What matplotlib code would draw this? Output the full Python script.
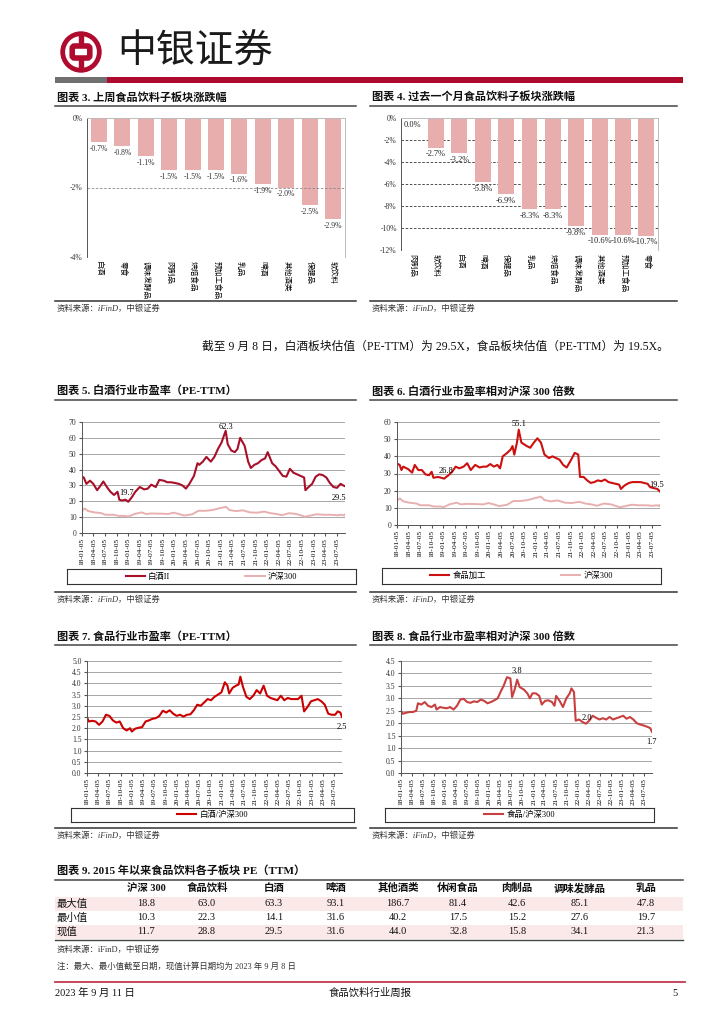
import matplotlib
matplotlib.use('Agg')
import matplotlib.pyplot as plt
import matplotlib.dates as mdates
from matplotlib.patches import Rectangle, Circle, FancyBboxPatch
from matplotlib.lines import Line2D
import pandas as pd
import numpy as np

# ---------------- DATA ----------------
week_cats = ['白酒', '零食', '调味发酵品', '肉制品', '烘焙食品', '预加工食品', '乳品', '啤酒', '其他酒类', '保健品', '软饮料']
week_vals = [-0.7, -0.8, -1.1, -1.5, -1.5, -1.5, -1.6, -1.9, -2.0, -2.5, -2.9]

month_cats = ['肉制品', '软饮料', '白酒', '啤酒', '保健品', '乳品', '烘焙食品', '调味发酵品', '其他酒类', '预加工食品', '零食']
month_vals = [0.0, -2.7, -3.2, -5.8, -6.9, -8.3, -8.3, -9.8, -10.6, -10.6, -10.7]

bj_dates = ['2018-01-05', '2018-01-19', '2018-02-09', '2018-03-09', '2018-04-04', '2018-05-04', '2018-06-01',
            '2018-06-22', '2018-07-20', '2018-08-17', '2018-09-14', '2018-10-12', '2018-10-26', '2018-11-16',
            '2018-12-14', '2019-01-04', '2019-02-01', '2019-03-01', '2019-04-05', '2019-05-10', '2019-06-07',
            '2019-07-05', '2019-08-09', '2019-09-06', '2019-10-11', '2019-11-08', '2019-12-06', '2020-01-10',
            '2020-02-07', '2020-03-06', '2020-04-03', '2020-04-30', '2020-06-05', '2020-07-03', '2020-07-17',
            '2020-08-14', '2020-09-11', '2020-10-16', '2020-11-13', '2020-12-11', '2021-01-08', '2021-02-10',
            '2021-02-26', '2021-03-26', '2021-04-23', '2021-05-14', '2021-06-04', '2021-07-09', '2021-08-06',
            '2021-08-27', '2021-09-24', '2021-10-22', '2021-11-19', '2021-12-17', '2022-01-07', '2022-02-11',
            '2022-03-11', '2022-04-08', '2022-05-06', '2022-06-03', '2022-07-01', '2022-07-29', '2022-08-26',
            '2022-09-23', '2022-10-21', '2022-10-31', '2022-11-25', '2022-12-23', '2023-01-20', '2023-02-17',
            '2023-03-17', '2023-04-14', '2023-05-12', '2023-06-09', '2023-07-07', '2023-08-04', '2023-08-25',
            '2023-09-08']
bj_vals = [35.5, 35, 31, 33, 31, 27, 30, 32.5, 29, 26, 24, 26, 21, 20.5, 21, 19.7, 22.5, 26, 29, 27.5, 28,
           30.5, 29, 33.5, 33, 32, 32, 31.5, 31, 30, 28, 31, 36, 44, 43, 45, 48, 45, 48, 53, 57, 64.5, 56, 52,
           51, 53, 60, 55, 45, 41, 43, 44, 46, 47, 51, 44, 42, 39, 36, 35.5, 40.5, 38, 37, 36, 35, 27, 29, 31,
           35.5, 37, 36.5, 35, 31.5, 29, 28.5, 31, 30, 29.5]

hs_dates = ['2018-01-05', '2018-01-26', '2018-02-23', '2018-04-13', '2018-06-08', '2018-07-06', '2018-09-14',
            '2018-10-19', '2018-12-14', '2019-01-04', '2019-02-22', '2019-04-19', '2019-05-24', '2019-07-05',
            '2019-09-13', '2019-11-15', '2019-12-27', '2020-02-07', '2020-03-20', '2020-05-22', '2020-07-10',
            '2020-09-04', '2020-10-30', '2020-12-18', '2021-02-12', '2021-03-12', '2021-04-30', '2021-06-25',
            '2021-08-20', '2021-10-15', '2021-12-10', '2022-01-28', '2022-03-18', '2022-04-29', '2022-06-24',
            '2022-08-19', '2022-10-28', '2022-12-09', '2023-01-27', '2023-03-24', '2023-05-19', '2023-07-07',
            '2023-08-18', '2023-09-01', '2023-09-08']
hs_vals = [14, 15.5, 13.8, 13, 12.5, 11.5, 11.5, 10.8, 10.8, 10.3, 12, 13, 12, 12.3, 12.2, 12, 12.8, 12, 11,
           11.8, 14, 14, 14.5, 15.5, 16.5, 14.5, 13.8, 14.3, 13, 12.8, 13.5, 12.5, 12, 11.2, 12.5, 12, 10.3,
           11, 11.8, 11.5, 11.5, 11.2, 11.5, 11, 11.7]

fd_dates = ['2018-01-05', '2018-01-26', '2018-02-09', '2018-02-23', '2018-04-04', '2018-05-04', '2018-05-25',
            '2018-06-22', '2018-07-20', '2018-08-17', '2018-09-14', '2018-10-05', '2018-10-19', '2018-11-23',
            '2018-12-21', '2019-01-11', '2019-02-15', '2019-03-15', '2019-04-12', '2019-05-10', '2019-06-14',
            '2019-07-12', '2019-08-09', '2019-09-13', '2019-10-18', '2019-11-15', '2019-12-13', '2020-01-10',
            '2020-02-07', '2020-03-06', '2020-03-27', '2020-04-17', '2020-05-22', '2020-06-19', '2020-07-03',
            '2020-07-17', '2020-08-07', '2020-08-21', '2020-09-11', '2020-10-23', '2020-11-20', '2020-12-18',
            '2021-01-15', '2021-02-12', '2021-03-12', '2021-04-16', '2021-05-14', '2021-06-11', '2021-07-09',
            '2021-08-06', '2021-09-03', '2021-10-08', '2021-11-05', '2021-12-03', '2021-12-17', '2022-01-14',
            '2022-02-11', '2022-03-11', '2022-04-08', '2022-05-06', '2022-06-03', '2022-07-01', '2022-07-29',
            '2022-08-26', '2022-09-23', '2022-10-21', '2022-11-04', '2022-12-02', '2023-01-06', '2023-02-03',
            '2023-03-03', '2023-04-07', '2023-05-05', '2023-06-02', '2023-06-23', '2023-07-21', '2023-08-18',
            '2023-09-08']
fd_vals = [35.8, 35, 32, 34, 32.5, 30.5, 35, 32, 32, 29.5, 29, 31, 27.5, 28, 27.5, 27, 29, 31, 34, 33, 34, 36,
           32, 35, 33.5, 34, 34, 35.5, 34, 35, 33, 40, 42, 44, 46, 41, 48, 55.5, 48, 46, 45, 48, 50.5, 48, 41,
           39, 40, 39, 38, 35, 33.5, 38, 42, 41, 28, 28, 26, 24.5, 25, 26, 25.5, 26.5, 25, 24.5, 24, 23.5, 21,
           23, 24.5, 25, 25, 25, 24.5, 24, 22, 21.5, 21, 19.5]

r7_dates = ['2018-01-05', '2018-01-19', '2018-02-16', '2018-03-16', '2018-04-13', '2018-05-11', '2018-06-08',
            '2018-07-06', '2018-08-03', '2018-08-31', '2018-09-28', '2018-10-26', '2018-11-23', '2018-12-21',
            '2019-01-04', '2019-02-01', '2019-03-01', '2019-03-29', '2019-04-26', '2019-05-24', '2019-06-21',
            '2019-07-19', '2019-08-16', '2019-09-13', '2019-10-11', '2019-11-08', '2019-12-06', '2020-01-03',
            '2020-01-31', '2020-02-28', '2020-03-27', '2020-04-24', '2020-05-22', '2020-06-19', '2020-07-17',
            '2020-08-14', '2020-09-11', '2020-10-09', '2020-11-06', '2020-12-04', '2021-01-01', '2021-01-29',
            '2021-02-19', '2021-03-05', '2021-04-02', '2021-04-30', '2021-05-21', '2021-06-04', '2021-06-25',
            '2021-07-23', '2021-08-20', '2021-09-17', '2021-10-15', '2021-11-12', '2021-12-10', '2022-01-07',
            '2022-02-04', '2022-03-04', '2022-04-01', '2022-04-29', '2022-05-27', '2022-06-24', '2022-07-22',
            '2022-08-19', '2022-09-16', '2022-10-14', '2022-11-04', '2022-12-02', '2022-12-30', '2023-01-27',
            '2023-02-24', '2023-03-24', '2023-04-21', '2023-05-19', '2023-06-16', '2023-07-14', '2023-08-04',
            '2023-08-25', '2023-09-08']
r7_vals = [2.5, 2.3, 2.33, 2.3, 2.15, 2.3, 2.6, 2.55, 2.35, 2.25, 2.3, 2.0, 1.9, 2.0, 1.85, 1.98, 2.02, 2.05,
           2.3, 2.35, 2.42, 2.45, 2.55, 2.78, 2.7, 2.8, 2.65, 2.55, 2.6, 2.52, 2.6, 2.62, 2.8, 3.05, 3.0, 3.15,
           3.3, 3.25, 3.4, 3.5, 3.6, 4.05, 3.9, 3.55, 3.8, 3.9, 3.95, 4.3, 3.85, 3.4, 3.3, 3.45, 3.7, 3.55, 3.9,
           3.45, 3.35, 3.3, 3.25, 3.45, 3.25, 3.35, 3.3, 3.3, 3.3, 3.45, 2.75, 2.95, 3.2, 3.25, 3.3, 3.2, 3.05,
           2.65, 2.6, 2.6, 2.75, 2.7, 2.5]

r8_dates = ['2018-01-05', '2018-01-19', '2018-02-16', '2018-03-16', '2018-04-13', '2018-05-11', '2018-05-25',
            '2018-06-22', '2018-07-20', '2018-08-17', '2018-09-14', '2018-10-12', '2018-10-26', '2018-11-23',
            '2018-12-21', '2019-01-18', '2019-02-15', '2019-03-15', '2019-04-12', '2019-05-10', '2019-06-07',
            '2019-07-05', '2019-08-02', '2019-08-30', '2019-09-27', '2019-10-25', '2019-11-22', '2019-12-20',
            '2020-01-17', '2020-02-14', '2020-03-13', '2020-04-10', '2020-05-01', '2020-05-29', '2020-06-26',
            '2020-07-10', '2020-07-31', '2020-08-21', '2020-09-11', '2020-10-16', '2020-11-13', '2020-12-04',
            '2020-12-25', '2021-01-22', '2021-02-19', '2021-03-12', '2021-04-09', '2021-05-07', '2021-06-04',
            '2021-06-25', '2021-07-09', '2021-08-06', '2021-09-03', '2021-10-01', '2021-10-29', '2021-11-12',
            '2021-12-03', '2021-12-17', '2022-01-14', '2022-02-11', '2022-03-11', '2022-04-08', '2022-05-06',
            '2022-06-03', '2022-07-01', '2022-07-29', '2022-08-26', '2022-09-23', '2022-10-21', '2022-11-18',
            '2022-12-16', '2023-01-13', '2023-02-10', '2023-03-10', '2023-04-07', '2023-05-05', '2023-06-02',
            '2023-07-07', '2023-08-04', '2023-08-25', '2023-09-08']
r8_vals = [2.5, 2.38, 2.42, 2.45, 2.45, 2.5, 2.8, 2.75, 2.85, 2.7, 2.65, 2.75, 2.55, 2.65, 2.62, 2.6, 2.65,
           2.55, 2.7, 2.95, 2.98, 2.85, 2.82, 2.88, 2.85, 2.95, 2.9, 2.8, 2.85, 2.92, 3.0, 3.3, 3.5, 3.85, 3.8,
           3.05, 3.35, 3.75, 3.45, 3.35, 3.2, 3.0, 3.2, 3.2, 3.1, 2.75, 2.9, 2.92, 2.85, 2.7, 3.1, 2.9, 2.65,
           3.0, 3.2, 3.4, 3.25, 2.1, 2.15, 2.05, 1.98, 2.1, 2.3, 2.22, 2.15, 2.2, 2.15, 2.25, 2.15, 2.2, 2.25,
           2.3, 2.18, 2.25, 2.15, 2.0, 1.95, 1.9, 1.85, 1.8, 1.65]

date_ticks = ['2018-01-05', '2018-04-05', '2018-07-05', '2018-10-05', '2019-01-05', '2019-04-05', '2019-07-05',
              '2019-10-05', '2020-01-05', '2020-04-05', '2020-07-05', '2020-10-05', '2021-01-05', '2021-04-05',
              '2021-07-05', '2021-10-05', '2022-01-05', '2022-04-05', '2022-07-05', '2022-10-05', '2023-01-05',
              '2023-04-05', '2023-07-05']

tbl_cols = ['沪深 300', '食品饮料', '白酒', '啤酒', '其他酒类', '休闲食品', '肉制品', '调味发酵品', '乳品']
tbl_rows = ['最大值', '最小值', '现值']
tbl_max = [18.8, 63.0, 63.3, 93.1, 186.7, 81.4, 42.6, 85.1, 47.8]
tbl_min = [10.3, 22.3, 14.1, 31.6, 40.2, 17.5, 15.2, 27.6, 19.7]
tbl_now = [11.7, 28.8, 29.5, 31.6, 44.0, 32.8, 15.8, 34.1, 21.3]

# ---------------- STYLE ----------------
SER = ['Liberation Serif', 'Noto Sans CJK SC']
plt.rcParams['font.family'] = SER
plt.rcParams['axes.unicode_minus'] = False

RED_HDR = '#AE0B2E'
BAR_PINK = '#E8AEAE'
HS_PINK = '#E8B0B0'
GRID = '#A8A8A8'

W, H = 724, 1024
fig = plt.figure(figsize=(W / 100, H / 100), dpi=100)


def axpx(x0, y0, x1, y1):
    return fig.add_axes([x0 / W, 1 - y1 / H, (x1 - x0) / W, (y1 - y0) / H])


def tx(x, y, s, **kw):
    kw.setdefault('va', 'center')
    fig.text(x / W, 1 - y / H, s, **kw)


def hline(x0, x1, y, color='#333333', lw=1.0):
    fig.add_artist(Line2D([x0 / W, x1 / W], [1 - y / H, 1 - y / H], color=color, lw=lw,
                          transform=fig.transFigure))


def rect(x0, y0, x1, y1, color):
    fig.add_artist(Rectangle((x0 / W, 1 - y1 / H), (x1 - x0) / W, (y1 - y0) / H, color=color,
                             transform=fig.transFigure, lw=0))


def title(x, y, s, x1):
    tx(x, y, s, fontsize=8, fontweight='bold', color='#111111')
    hline(x - 2, x1, y + 9, '#444444', 1.1)


def source(x, y, x1):
    hline(x - 2, x1, y - 8, '#333333', 1.1)
    tx(x, y, '资料来源：iFinD，中银证券', fontsize=6, color='#333333', fontstyle='italic')


# ---------------- HEADER ----------------
lg = axpx(59, 31, 103, 73)
lg.set_xlim(-1.05, 1.05)
lg.set_ylim(-1.05, 1.05)
lg.set_aspect('equal')
lg.axis('off')
lg.add_patch(Circle((0, 0), 1.0, color=RED_HDR))
lg.add_patch(Circle((0, 0), 0.76, color='white'))
lg.add_patch(Rectangle((-0.11, -0.9), 0.22, 1.8, color=RED_HDR))
lg.add_patch(FancyBboxPatch((-0.42, -0.28), 0.84, 0.56, boxstyle='round,pad=0.02,rounding_size=0.12',
                            fc='white', ec=RED_HDR, lw=4))
tx(117, 52, '中银证券', fontsize=28, color='#1a1a1a', family=['Noto Sans CJK SC'])
rect(55, 77, 107, 83, '#707070')
rect(107, 77, 683, 83, RED_HDR)

# ---------------- CHART 3 ----------------
title(57, 97, '图表 3. 上周食品饮料子板块涨跌幅', 356)
ax = axpx(87, 118, 345, 257)
x = np.arange(len(week_cats))
ax.bar(x, week_vals, width=0.68, color=BAR_PINK)
ax.set_xlim(-0.51, len(week_cats) - 0.49)
ax.set_ylim(-4, 0)
ax.set_yticks([0, -2, -4])
ax.set_yticklabels(['0%', '-2%', '-4%'], fontsize=5.5, color='#333333')
ax.set_xticks(x)
ax.set_xticklabels(week_cats, rotation=270, fontsize=5.5, va='top', ha='center')
ax.tick_params(axis='both', length=0, pad=3)
for yv in [-2, -4]:
    ax.axhline(yv, color='#888888', lw=0.6, ls=(0, (3, 2)))
ax.spines['top'].set_color('#BBBBBB')
ax.spines['right'].set_color('#BBBBBB')
ax.spines['bottom'].set_visible(False)
ax.spines['left'].set_color('#555555')
for s in ax.spines.values():
    s.set_linewidth(0.7)
for xi, v in zip(x, week_vals):
    ax.annotate(f'{v:.1f}%', (xi, v), xytext=(0, -2), textcoords='offset points', ha='center', va='top',
                fontsize=5.5, color='#333333')
source(57, 309, 356)

# ---------------- CHART 4 ----------------
title(372, 97, '图表 4. 过去一个月食品饮料子板块涨跌幅', 677)
ax = axpx(401, 118, 658, 250)
x = np.arange(len(month_cats))
ax.bar(x, month_vals, width=0.68, color=BAR_PINK)
ax.set_xlim(-0.5, len(month_cats) - 0.5)
ax.set_ylim(-12, 0)
ax.set_yticks(np.arange(0, -13, -2))
ax.set_yticklabels([f'{int(v)}%' for v in np.arange(0, -13, -2)], fontsize=5.5, color='#333333')
ax.set_xticks(x)
ax.set_xticklabels(month_cats, rotation=270, fontsize=5.5, va='top', ha='center')
ax.tick_params(axis='both', length=0, pad=3)
for yv in np.arange(-2, -13, -2):
    ax.axhline(yv, color='#333333', lw=0.6, ls=(0, (3, 2)), zorder=0)
ax.spines['top'].set_color('#BBBBBB')
ax.spines['right'].set_color('#BBBBBB')
ax.spines['bottom'].set_visible(False)
ax.spines['left'].set_color('#555555')
for s in ax.spines.values():
    s.set_linewidth(0.7)
for xi, v in zip(x, month_vals):
    ax.annotate(f'{v:.1f}%', (xi, v), xytext=(0, -2), textcoords='offset points', ha='center', va='top',
                fontsize=6, color='#222222')
source(372, 309, 677)

# paragraph
tx(202, 347, '截至 9 月 8 日，白酒板块估值（PE-TTM）为 29.5X，食品板块估值（PE-TTM）为 19.5X。',
   fontsize=8.45, color='#111111')


# ---------------- LINE CHART HELPERS ----------------
def date_axis(ax, ylim, yticks, fmt):
    ax.set_xlim(pd.Timestamp('2018-01-05'), pd.Timestamp('2023-09-08'))
    ax.set_ylim(*ylim)
    ax.set_yticks(yticks)
    ax.set_yticklabels([fmt.format(v) for v in yticks], fontsize=5.5, color='#333333')
    ax.set_xticks(pd.to_datetime(date_ticks))
    ax.xaxis.set_major_formatter(mdates.DateFormatter('%y-%m-%d'))
    for lab in ax.get_xticklabels():
        lab.set_rotation(90)
        lab.set_fontsize(5.3)
    ax.tick_params(axis='x', length=2, pad=1.5, color='#555555')
    ax.tick_params(axis='y', length=2, pad=2, color='#555555')
    ax.grid(axis='y', color=GRID, lw=0.7)
    ax.set_axisbelow(True)
    for k in ['top', 'right']:
        ax.spines[k].set_visible(False)
    for k in ['left', 'bottom']:
        ax.spines[k].set_color('#555555')
        ax.spines[k].set_linewidth(0.7)


def legend_box(x0, y0, x1, y1, entries, spacing):
    lax = axpx(x0, y0, x1, y1)
    lax.set_xticks([])
    lax.set_yticks([])
    for s in lax.spines.values():
        s.set_linewidth(0.8)
        s.set_color('#333333')
    handles = [Line2D([], [], color=c, lw=lw) for (_, c, lw) in entries]
    lax.legend(handles, [e[0] for e in entries], loc='center', ncol=len(entries), frameon=False,
               prop={'family': SER, 'size': 6}, handlelength=2.3, columnspacing=spacing,
               borderpad=0, handletextpad=0.4)


# ---------------- CHART 5 ----------------
title(57, 391, '图表 5. 白酒行业市盈率（PE-TTM）', 356)
ax = axpx(82, 422, 345, 533)
ax.plot(pd.to_datetime(hs_dates), hs_vals, color=HS_PINK, lw=1.4)
ax.plot(pd.to_datetime(bj_dates), bj_vals, color='#A8102A', lw=1.5)
date_axis(ax, (0, 70), list(range(0, 71, 10)), '{:d}')
ax.text(pd.Timestamp('2021-02-15'), 64.5, '62.3', fontsize=6, ha='center', va='bottom')
ax.text(pd.Timestamp('2018-12-20'), 22.5, '19.7', fontsize=6, ha='center', va='bottom')
ax.text(pd.Timestamp('2023-07-20'), 22, '29.5', fontsize=6, ha='center', va='center')
legend_box(67, 569, 356, 584, [('白酒II', '#A8102A', 1.5), ('沪深300', HS_PINK, 1.4)], 9)
source(57, 600, 356)

# ---------------- CHART 6 ----------------
title(372, 391, '图表 6. 白酒行业市盈率相对沪深 300 倍数', 677)
ax = axpx(397, 422, 660, 525)
ax.plot(pd.to_datetime(hs_dates), hs_vals, color=HS_PINK, lw=1.4)
ax.plot(pd.to_datetime(fd_dates), fd_vals, color='#CC1010', lw=1.5)
date_axis(ax, (0, 60), list(range(0, 61, 10)), '{:d}')
ax.text(pd.Timestamp('2020-08-21'), 56.5, '55.1', fontsize=6, ha='center', va='bottom')
ax.text(pd.Timestamp('2019-01-25'), 29, '26.8', fontsize=6, ha='center', va='bottom')
ax.text(pd.Timestamp('2023-08-10'), 23.2, '19.5', fontsize=6, ha='center', va='center')
legend_box(382, 568, 661, 584, [('食品加工', '#CC1010', 1.5), ('沪深300', HS_PINK, 1.4)], 9)
source(372, 600, 677)

# ---------------- CHART 7 ----------------
title(57, 636, '图表 7. 食品行业市盈率（PE-TTM）', 356)
ax = axpx(87, 661, 342, 773)
ax.plot(pd.to_datetime(r7_dates), r7_vals, color='#CC0000', lw=1.5)
date_axis(ax, (0, 5), [v / 2 for v in range(0, 11)], '{:.1f}')
ax.text(pd.Timestamp('2023-09-08'), 2.05, '2.5', fontsize=6, ha='center', va='center')
legend_box(71, 808, 354, 822, [('白酒/沪深300', '#CC0000', 1.5)], 2)
source(57, 836, 356)

# ---------------- CHART 8 ----------------
title(372, 636, '图表 8. 食品行业市盈率相对沪深 300 倍数', 677)
ax = axpx(401, 661, 652, 773)
ax.plot(pd.to_datetime(r8_dates), r8_vals, color='#C84040', lw=1.5)
date_axis(ax, (0, 4.5), [v / 2 for v in range(0, 10)], '{:.1f}')
ax.text(pd.Timestamp('2020-08-18'), 3.92, '3.8', fontsize=6, ha='center', va='bottom')
ax.text(pd.Timestamp('2022-03-20'), 2.05, '2.0', fontsize=6, ha='center', va='bottom')
ax.text(pd.Timestamp('2023-09-01'), 1.25, '1.7', fontsize=6, ha='center', va='center')
legend_box(385, 808, 654, 822, [('食品/沪深300', '#C84040', 1.5)], 2)
source(372, 836, 677)

# ---------------- TABLE ----------------
tx(57, 870, '图表 9. 2015 年以来食品饮料各子板块 PE（TTM）', fontsize=8, fontweight='bold', color='#111111')
hline(55, 683, 880, '#444444', 1.1)
col_x = [146, 207, 274, 336, 398, 458, 517, 580, 646]
row_y = [904, 918, 932]
rect(55, 897, 683, 911, '#FBE8E8')
rect(55, 925, 683, 939, '#FBE8E8')
for cx, c in zip(col_x, tbl_cols):
    tx(cx, 888, c, fontsize=7.5, fontweight='bold', ha='center', color='#111111')
for ry, rn, vals in zip(row_y, tbl_rows, [tbl_max, tbl_min, tbl_now]):
    tx(57, ry, rn, fontsize=7.5, ha='left', color='#111111')
    for cx, v in zip(col_x, vals):
        tx(cx, ry, f'{v:.1f}', fontsize=7.5, ha='center', color='#111111')
hline(55, 683, 940, '#444444', 1.0)
tx(57, 950, '资料来源：iFinD，中银证券', fontsize=6, color='#333333')
tx(57, 966, '注：最大、最小值截至日期，现值计算日期均为 2023 年 9 月 8 日', fontsize=6, color='#333333')

# ---------------- FOOTER ----------------
hline(55, 685, 982, '#C2394F', 1.3)
tx(55, 993, '2023 年 9 月 11 日', fontsize=7.5, ha='left', color='#111111')
tx(370, 993, '食品饮料行业周报', fontsize=7.5, ha='center', color='#111111')
tx(678, 993, '5', fontsize=7.5, ha='right', color='#111111')

fig.savefig('out.png', dpi=100, facecolor='white')
